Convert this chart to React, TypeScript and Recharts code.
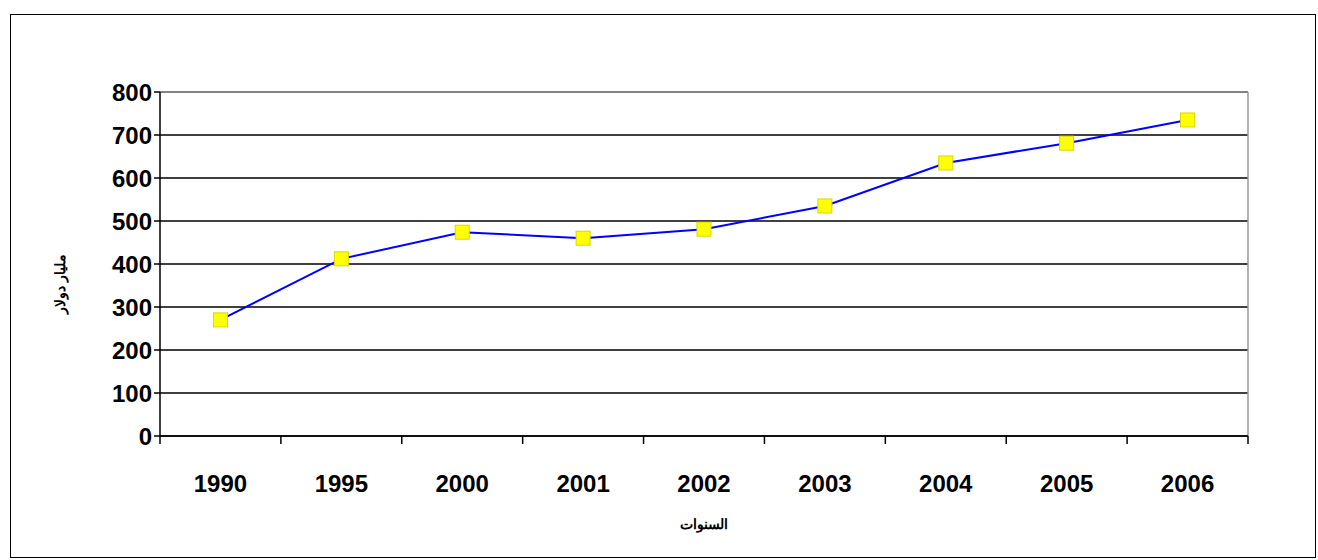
import { LineChart, Line, XAxis, YAxis, CartesianGrid, ReferenceLine } from 'recharts'

const years = ['1990', '1995', '2000', '2001', '2002', '2003', '2004', '2005', '2006']
const values = [270, 412, 474, 460, 481, 535, 635, 681, 735]
const yTicks = [0, 100, 200, 300, 400, 500, 600, 700, 800]

const data = years.map((y, i) => ({ x: i + 0.5, year: y, value: values[i] }))

const FONT = '"Liberation Sans", Arial, sans-serif'

function XTick(props: any) {
  const { x, y, index, payload } = props
  const band = 1088 / years.length
  return (
    <g>
      <line x1={x} x2={x} y1={y - 8} y2={y} stroke="#000" strokeWidth={1.5} />
      {index < years.length && (
        <text x={x + band / 2} y={y + 48} textAnchor="middle" fontFamily={FONT} fontWeight="bold" fontSize={24} fill="#000">
          {years[payload.value]}
        </text>
      )}
    </g>
  )
}

function Marker(props: any) {
  const { cx, cy } = props
  return <rect x={cx - 7} y={cy - 7} width={14} height={14} fill="#ffff00" stroke="#d8d800" strokeWidth={1} />
}

export default function App() {
  return (
    <div style={{ position: 'absolute', left: 10, top: 14, width: 1304, height: 542, border: '1px solid #000', background: '#fff' }}>
      <LineChart width={1304} height={542} data={data} margin={{ top: 77, right: 67, bottom: 0, left: 89 }}>
        <CartesianGrid vertical={false} stroke="#000" strokeWidth={1.5} />
        <XAxis
          dataKey="x"
          type="number"
          domain={[0, 9]}
          ticks={[0, 1, 2, 3, 4, 5, 6, 7, 8, 9]}
          tick={<XTick />}
          tickLine={false}
          axisLine={{ stroke: '#000', strokeWidth: 1.5 }}
          height={121}
          label={{ value: 'السنوات', position: 'insideBottom', offset: 28, style: { fontFamily: FONT, fontWeight: 'bold', fontSize: 14, fill: '#000' } }}
        />
        <YAxis
          type="number"
          domain={[0, 800]}
          ticks={yTicks}
          width={60}
          tickSize={6}
          tickLine={{ stroke: '#000', strokeWidth: 1.5 }}
          axisLine={{ stroke: '#000', strokeWidth: 1.5 }}
          tick={{ fontFamily: FONT, fontWeight: 'bold', fontSize: 24, fill: '#000' }}
          label={{ value: 'مليار دولار', angle: -90, position: 'insideLeft', offset: -40, dx: 0, dy: 20, style: { fontFamily: FONT, fontWeight: 'bold', fontSize: 14, fill: '#000', textAnchor: 'middle' } }}
        />
        <ReferenceLine x={9} stroke="#999" strokeWidth={1.5} />
        <ReferenceLine y={800} stroke="#999" strokeWidth={1.5} />
        <Line dataKey="value" stroke="#0000ff" strokeWidth={2} dot={<Marker />} isAnimationActive={false} />
      </LineChart>
    </div>
  )
}
